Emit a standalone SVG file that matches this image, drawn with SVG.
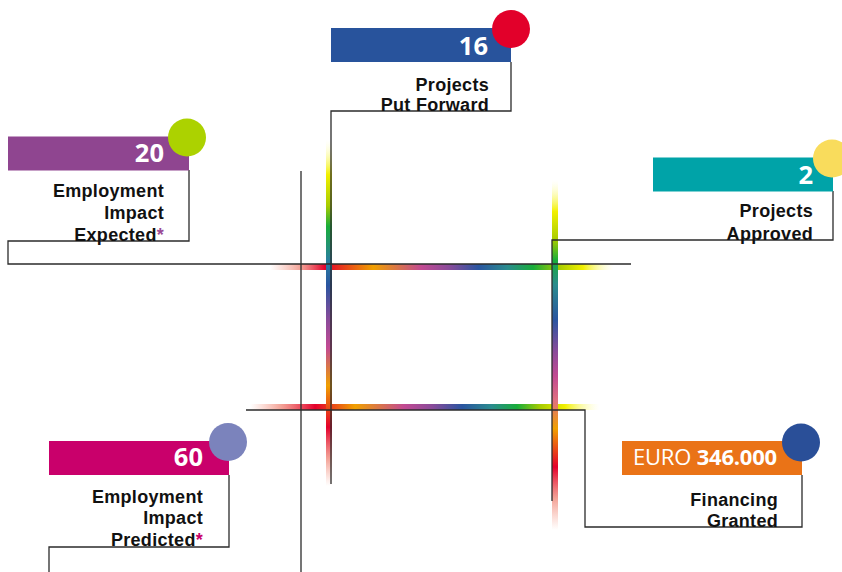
<svg xmlns="http://www.w3.org/2000/svg" width="842" height="572" viewBox="0 0 842 572">
<defs>
<style>
.bar{stroke:none}
.num{font-family:"Open Sans","Liberation Sans",sans-serif;font-weight:700;font-size:25.5px;fill:#ffffff;text-anchor:end}
.lbl{font-family:"Liberation Sans","Open Sans",sans-serif;font-weight:700;font-size:18px;letter-spacing:0.3px;fill:#111111;text-anchor:end}
.euro{font-family:"Open Sans","Liberation Sans",sans-serif;font-size:22px;fill:#ffffff;text-anchor:end;letter-spacing:-0.2px}
.conn{fill:none;stroke:#2b2b2b;stroke-width:1.3}
.rb{stroke-width:6;fill:none}
</style>
<linearGradient id="gH1" gradientUnits="userSpaceOnUse" x1="270" y1="0" x2="614" y2="0">
<stop offset="0" stop-color="#f6a08c" stop-opacity="0"/>
<stop offset="0.09" stop-color="#f08a7c" stop-opacity="0.8"/>
<stop offset="0.16" stop-color="#e4002b"/>
<stop offset="0.30" stop-color="#f0a000"/>
<stop offset="0.44" stop-color="#c24a92"/>
<stop offset="0.52" stop-color="#8a4b9a"/>
<stop offset="0.606" stop-color="#2a55a0"/>
<stop offset="0.69" stop-color="#2a8c8e"/>
<stop offset="0.765" stop-color="#18ad3a"/>
<stop offset="0.84" stop-color="#a8cc00"/>
<stop offset="0.91" stop-color="#f2f000"/>
<stop offset="1" stop-color="#ffffc0" stop-opacity="0"/>
</linearGradient>
<linearGradient id="gH2" gradientUnits="userSpaceOnUse" x1="250" y1="0" x2="600" y2="0">
<stop offset="0" stop-color="#f6a08c" stop-opacity="0"/>
<stop offset="0.09" stop-color="#f08a7c" stop-opacity="0.8"/>
<stop offset="0.186" stop-color="#e4002b"/>
<stop offset="0.30" stop-color="#f0a000"/>
<stop offset="0.44" stop-color="#c24a92"/>
<stop offset="0.52" stop-color="#8a4b9a"/>
<stop offset="0.606" stop-color="#2a55a0"/>
<stop offset="0.69" stop-color="#2a8c8e"/>
<stop offset="0.763" stop-color="#18ad3a"/>
<stop offset="0.83" stop-color="#a8cc00"/>
<stop offset="0.90" stop-color="#f2f000"/>
<stop offset="1" stop-color="#ffffc0" stop-opacity="0"/>
</linearGradient>
<linearGradient id="gV1" gradientUnits="userSpaceOnUse" x1="0" y1="140" x2="0" y2="486">
<stop offset="0" stop-color="#ffffc0" stop-opacity="0"/>
<stop offset="0.10" stop-color="#f2f000"/>
<stop offset="0.19" stop-color="#a8cc00"/>
<stop offset="0.25" stop-color="#18ad3a"/>
<stop offset="0.35" stop-color="#2a7ea0"/>
<stop offset="0.42" stop-color="#2a55a0"/>
<stop offset="0.52" stop-color="#8a4b9a"/>
<stop offset="0.60" stop-color="#c24a92"/>
<stop offset="0.71" stop-color="#f0a000"/>
<stop offset="0.83" stop-color="#e4002b"/>
<stop offset="0.92" stop-color="#f08a7c" stop-opacity="0.8"/>
<stop offset="1" stop-color="#f6a08c" stop-opacity="0"/>
</linearGradient>
<linearGradient id="gV2" gradientUnits="userSpaceOnUse" x1="0" y1="180" x2="0" y2="530">
<stop offset="0" stop-color="#ffffc0" stop-opacity="0"/>
<stop offset="0.09" stop-color="#f2f000"/>
<stop offset="0.17" stop-color="#a8cc00"/>
<stop offset="0.23" stop-color="#18ad3a"/>
<stop offset="0.30" stop-color="#2a8c8e"/>
<stop offset="0.40" stop-color="#2a55a0"/>
<stop offset="0.49" stop-color="#8a4b9a"/>
<stop offset="0.56" stop-color="#c24a92"/>
<stop offset="0.63" stop-color="#e07080"/>
<stop offset="0.71" stop-color="#f0a000"/>
<stop offset="0.82" stop-color="#e4002b"/>
<stop offset="0.91" stop-color="#f08a7c" stop-opacity="0.8"/>
<stop offset="1" stop-color="#f6a08c" stop-opacity="0"/>
</linearGradient>
</defs>
<rect width="842" height="572" fill="#ffffff"/>
<g id="rainbow">
<line class="rb" x1="270" y1="267" x2="614" y2="267" stroke="url(#gH1)"/>
<line class="rb" x1="250" y1="407" x2="600" y2="407" stroke="url(#gH2)"/>
<line class="rb" x1="329" y1="140" x2="329" y2="486" stroke="url(#gV1)"/>
<line class="rb" x1="555" y1="180" x2="555" y2="530" stroke="url(#gV2)"/>
</g>
<g id="connectors">
<path class="conn" d="M511,62 V111 H331 V484"/>
<path class="conn" d="M189,170 V241 H8 V264 H631"/>
<path class="conn" d="M833,191 V240 H552 V501"/>
<path class="conn" d="M229,475 V547 H49 V572"/>
<path class="conn" d="M802,475 V527 H585 V410 H246"/>
<path class="conn" d="M301,171 V572"/>
</g>
<g id="projects-put-forward">
<rect class="bar" x="331" y="28" width="180" height="34" fill="#28539c"/>
<circle cx="511" cy="29" r="19" fill="#e2002a"/>
<text class="num" x="488" y="55">16</text>
<text class="lbl" x="489" y="90.5">Projects</text>
<text class="lbl" x="489" y="111">Put Forward</text>
</g>
<g id="employment-expected">
<rect class="bar" x="8" y="136.5" width="181" height="34" fill="#8f4590"/>
<circle cx="187" cy="137.5" r="19" fill="#acd200"/>
<text class="num" x="164" y="161.5">20</text>
<text class="lbl" x="164" y="196.5">Employment</text>
<text class="lbl" x="164" y="219">Impact</text>
<text class="lbl" x="164" y="240.5">Expected<tspan fill="#9b4a96">*</tspan></text>
</g>
<g id="projects-approved">
<rect class="bar" x="653" y="157.5" width="180" height="34" fill="#00a3a8"/>
<circle cx="832" cy="158.5" r="19" fill="#f9dc5c"/>
<text class="num" x="813" y="184">2</text>
<text class="lbl" x="813" y="216.5">Projects</text>
<text class="lbl" x="813" y="240">Approved</text>
</g>
<g id="employment-predicted">
<rect class="bar" x="49" y="441" width="180" height="34" fill="#c9006b"/>
<circle cx="228" cy="442" r="19" fill="#7b83bc"/>
<text class="num" x="203" y="466">60</text>
<text class="lbl" x="203" y="502.5">Employment</text>
<text class="lbl" x="203" y="524">Impact</text>
<text class="lbl" x="203" y="545.5">Predicted<tspan fill="#c9006b">*</tspan></text>
</g>
<g id="financing-granted">
<rect class="bar" x="622" y="441" width="180" height="34" fill="#ea7317"/>
<circle cx="801" cy="442.5" r="19" fill="#2a4f98"/>
<text class="euro" x="777" y="465">EURO <tspan font-weight="700">346.000</tspan></text>
<text class="lbl" x="778" y="506">Financing</text>
<text class="lbl" x="778" y="527">Granted</text>
</g>
</svg>
